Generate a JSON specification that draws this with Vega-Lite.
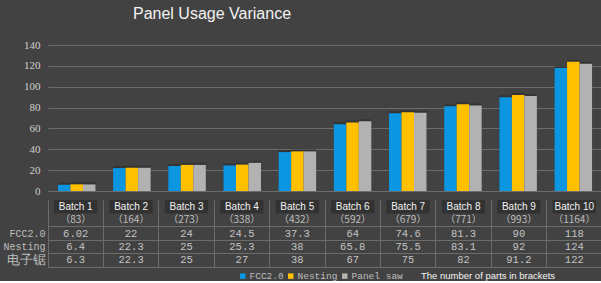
{
  "$schema": "https://vega.github.io/schema/vega-lite/v6.json",
  "background": "#424242",
  "padding": {"left": 2, "top": 6, "right": 0, "bottom": 0},
  "title": {"text": "Panel Usage Variance", "anchor": "start", "frame": "group", "dx": 85, "fontSize": 16, "font": "Liberation Sans", "fontWeight": "normal", "color": "#f2f2f2", "offset": 17},
  "datasets": {
    "bars": [
      {"batch": "Batch 1", "series": "FCC2.0", "row": "FCC2.0", "value": 6.02},
      {"batch": "Batch 1", "series": "Nesting", "row": "Nesting", "value": 6.4},
      {"batch": "Batch 1", "series": "Panel saw", "row": "电子锯", "value": 6.3},
      {"batch": "Batch 2", "series": "FCC2.0", "row": "FCC2.0", "value": 22},
      {"batch": "Batch 2", "series": "Nesting", "row": "Nesting", "value": 22.3},
      {"batch": "Batch 2", "series": "Panel saw", "row": "电子锯", "value": 22.3},
      {"batch": "Batch 3", "series": "FCC2.0", "row": "FCC2.0", "value": 24},
      {"batch": "Batch 3", "series": "Nesting", "row": "Nesting", "value": 25},
      {"batch": "Batch 3", "series": "Panel saw", "row": "电子锯", "value": 25},
      {"batch": "Batch 4", "series": "FCC2.0", "row": "FCC2.0", "value": 24.5},
      {"batch": "Batch 4", "series": "Nesting", "row": "Nesting", "value": 25.3},
      {"batch": "Batch 4", "series": "Panel saw", "row": "电子锯", "value": 27},
      {"batch": "Batch 5", "series": "FCC2.0", "row": "FCC2.0", "value": 37.3},
      {"batch": "Batch 5", "series": "Nesting", "row": "Nesting", "value": 38},
      {"batch": "Batch 5", "series": "Panel saw", "row": "电子锯", "value": 38},
      {"batch": "Batch 6", "series": "FCC2.0", "row": "FCC2.0", "value": 64},
      {"batch": "Batch 6", "series": "Nesting", "row": "Nesting", "value": 65.8},
      {"batch": "Batch 6", "series": "Panel saw", "row": "电子锯", "value": 67},
      {"batch": "Batch 7", "series": "FCC2.0", "row": "FCC2.0", "value": 74.6},
      {"batch": "Batch 7", "series": "Nesting", "row": "Nesting", "value": 75.5},
      {"batch": "Batch 7", "series": "Panel saw", "row": "电子锯", "value": 75},
      {"batch": "Batch 8", "series": "FCC2.0", "row": "FCC2.0", "value": 81.3},
      {"batch": "Batch 8", "series": "Nesting", "row": "Nesting", "value": 83.1},
      {"batch": "Batch 8", "series": "Panel saw", "row": "电子锯", "value": 82},
      {"batch": "Batch 9", "series": "FCC2.0", "row": "FCC2.0", "value": 90},
      {"batch": "Batch 9", "series": "Nesting", "row": "Nesting", "value": 92},
      {"batch": "Batch 9", "series": "Panel saw", "row": "电子锯", "value": 91.2},
      {"batch": "Batch 10", "series": "FCC2.0", "row": "FCC2.0", "value": 118},
      {"batch": "Batch 10", "series": "Nesting", "row": "Nesting", "value": 124},
      {"batch": "Batch 10", "series": "Panel saw", "row": "电子锯", "value": 122}
    ],
    "batches": [
      {"batch": "Batch 1", "parts": "（83）"},
      {"batch": "Batch 2", "parts": "（164）"},
      {"batch": "Batch 3", "parts": "（273）"},
      {"batch": "Batch 4", "parts": "（338）"},
      {"batch": "Batch 5", "parts": "（432）"},
      {"batch": "Batch 6", "parts": "（592）"},
      {"batch": "Batch 7", "parts": "（679）"},
      {"batch": "Batch 8", "parts": "（771）"},
      {"batch": "Batch 9", "parts": "（993）"},
      {"batch": "Batch 10", "parts": "（1164）"}
    ]
  },
  "spacing": 4,
  "vconcat": [
    {
      "width": 554,
      "height": 146,
      "data": {"name": "bars"},
      "encoding": {
        "x": {"field": "batch", "type": "nominal", "sort": null, "axis": null,
              "scale": {"paddingInner": 0.32, "paddingOuter": 0.18}},
        "xOffset": {"field": "series", "type": "nominal", "sort": ["FCC2.0", "Nesting", "Panel saw"], "scale": {"paddingInner": 0}},
        "y": {"field": "value", "type": "quantitative", "scale": {"domain": [0, 140]},
              "axis": {"values": [0, 20, 40, 60, 80, 100, 120, 140], "title": null, "domain": false, "ticks": false,
                       "labelFont": "Liberation Serif", "labelFontSize": 11, "labelColor": "#cfcfcf", "labelPadding": 8,
                       "gridColor": "#6c6c6c", "gridWidth": 1.2}}
      },
      "layer": [
        {
          "mark": {"type": "bar", "xOffset": 3, "yOffset": -2, "color": "#2c2c2c", "opacity": 0.6}
        },
        {
          "mark": {"type": "bar"},
          "encoding": {
            "color": {"field": "series", "type": "nominal",
                      "scale": {"domain": ["FCC2.0", "Nesting", "Panel saw"], "range": ["#0c95e0", "#ffc000", "#b2b2b2"]},
                      "legend": {"orient": "none", "legendX": 190, "legendY": 226, "direction": "horizontal",
                                 "title": "The number of parts in brackets", "titleOrient": "right", "titlePadding": 18,
                                 "titleColor": "#f5f5f5", "titleFont": "Liberation Sans", "titleFontWeight": "normal", "titleFontSize": 9.5,
                                 "symbolType": "square", "symbolSize": 30, "symbolStrokeWidth": 0,
                                 "labelFont": "Liberation Mono", "labelFontSize": 9.5, "labelColor": "#bdbdbd", "columnPadding": 2, "labelOffset": 2}}
          }
        }
      ]
    },
    {
      "width": 554,
      "height": 67,
      "encoding": {
        "x": {"field": "batch", "type": "nominal", "sort": null,
              "scale": {"domain": ["Batch 1", "Batch 2", "Batch 3", "Batch 4", "Batch 5", "Batch 6", "Batch 7", "Batch 8", "Batch 9", "Batch 10"], "paddingInner": 0, "paddingOuter": 0},
              "axis": {"labels": false, "ticks": false, "domain": false, "title": null, "grid": true, "bandPosition": 0, "gridColor": "#6c6c6c"}}
      },
      "layer": [
        {
          "data": {"name": "batches"},
          "mark": {"type": "rect", "width": {"band": 0.78}, "height": {"band": 1}, "color": "#323232"},
          "encoding": {
            "y": {"datum": "label", "type": "nominal",
                  "scale": {"domain": ["label", "count", "FCC2.0", "Nesting", "电子锯"], "paddingInner": 0, "paddingOuter": 0},
                  "axis": {"title": null, "domain": false, "ticks": false, "grid": true, "bandPosition": 1,
                           "gridColor": {"condition": {"test": "datum.value === 'label'", "value": "transparent"}, "value": "#6c6c6c"},
                           "labelExpr": "datum.value === 'label' || datum.value === 'count' ? '' : datum.value",
                           "labelFont": "Liberation Mono", "labelFontSize": {"condition": {"test": "datum.value === '电子锯'", "value": 13}, "value": 10},
                           "labelColor": "#bdbdbd", "labelPadding": 3}}
          }
        },
        {
          "data": {"name": "batches"},
          "mark": {"type": "text", "font": "Liberation Sans", "fontSize": 10, "color": "#f2f2f2"},
          "encoding": {"y": {"datum": "label", "type": "nominal"}, "text": {"field": "batch"}}
        },
        {
          "data": {"name": "batches"},
          "mark": {"type": "text", "font": "Noto Sans CJK SC", "fontSize": 10, "color": "#bdbdbd"},
          "encoding": {"y": {"datum": "count", "type": "nominal"}, "text": {"field": "parts"}}
        },
        {
          "data": {"name": "bars"},
          "mark": {"type": "text", "font": "Liberation Mono", "fontSize": 10.5, "color": "#c4c4c4"},
          "encoding": {"y": {"field": "row", "type": "nominal"}, "text": {"field": "value", "type": "nominal"}}
        }
      ]
    }
  ],
  "config": {"view": {"stroke": null}}
}
